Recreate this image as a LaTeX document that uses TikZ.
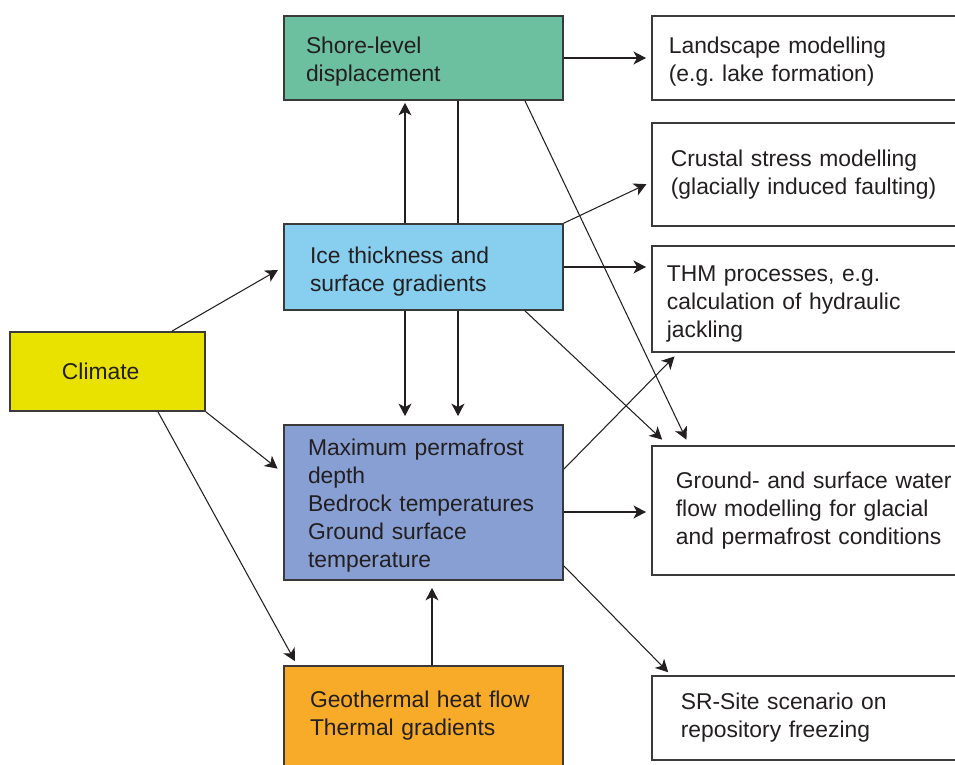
\documentclass[tikz,border=0pt]{standalone}
\usepackage{fontspec}
\setmainfont{Liberation Sans}
\usetikzlibrary{arrows.meta}

\definecolor{shoregreen}{HTML}{6CBF9F}
\definecolor{iceblue}{HTML}{87CEEF}
\definecolor{climyellow}{HTML}{E9E100}
\definecolor{permablue}{HTML}{879FD3}
\definecolor{geoorange}{HTML}{F7AB28}
\definecolor{boxline}{HTML}{3A3A3A}
\definecolor{txt}{HTML}{231F20}

\tikzset{
    box/.style={draw=boxline, line width=1pt, inner xsep=0pt, inner ysep=0pt,
        align=left, text=txt, font=\fontsize{13}{15.9}\selectfont},
    midbox/.style={box, minimum width=55.8mm},
    sidebox/.style={box, fill=white, anchor=west, text width=62mm},
    drop/.style={execute at begin node={\rule{0pt}{#1}}},
    plainline/.style={line width=0.6pt, draw=txt},
    link/.style={plainline, -{Stealth[length=2.5mm, width=2.6mm, inset=0.7mm]}, shorten >=1mm},
}

\begin{document}
\begin{tikzpicture}[x=0.2mm, y=-0.2mm]
    \useasboundingbox (0,0) rectangle (955,765);

    % Middle column
    \node[midbox, fill=shoregreen, text width=47mm, minimum height=16.8mm, drop=13.6pt] (shore) at (423.5,58)
        {Shore-level\\displacement};
    \node[midbox, fill=iceblue, text width=45.4mm, minimum height=17.2mm, drop=15pt] (ice) at (423.5,267)
        {Ice thickness and\\surface gradients};
    \node[midbox, fill=permablue, text width=46.2mm, minimum height=31mm, drop=13pt] (perma) at (423.5,502.5)
        {Maximum permafrost\\depth\\Bedrock temperatures\\Ground surface\\temperature};
    \node[midbox, fill=geoorange, text width=45.4mm, minimum height=20mm] (geo) at (423.5,716)
        {Geothermal heat flow\\Thermal gradients};

    % Climate
    \node[box, fill=climyellow, text width=18.2mm, minimum width=39mm, minimum height=15.8mm] (climate)
        at (107.5,371.5) {Climate};

    % Right column
    \node[sidebox, inner xsep=3.4mm, minimum height=16.8mm, drop=13pt] (land) at (651,58)
        {Landscape modelling\\(e.g.\ lake formation)};
    \node[sidebox, inner xsep=3.8mm, minimum height=20.6mm] (crust) at (651,174.5)
        {Crustal stress modelling\\(glacially induced faulting)};
    \node[sidebox, inner xsep=3mm, minimum height=21.2mm, drop=14.2pt] (thm) at (651,299)
        {THM processes, e.g.\\calculation of hydraulic\\jackling};
    \node[sidebox, inner xsep=4.8mm, minimum height=25.8mm] (gw) at (651,510.5)
        {Ground- and surface water\\flow modelling for glacial\\and permafrost conditions};
    \node[sidebox, inner xsep=5.8mm, minimum height=16.8mm] (sr) at (651,718)
        {SR-Site scenario on\\repository freezing};

    % Climate links
    \draw[link, shorten >=1.2mm] ([xshift=12.9mm]climate.north) -- (ice.west);
    \draw[link, shorten >=1.4mm] (climate.south east) -- ([yshift=5.9mm]perma.west);
    \draw[link, shorten >=0.9mm] ([xshift=10.1mm]climate.south) -- ([xshift=2.8mm]geo.north west);

    % Vertical links
    \draw[link, shorten >=0.4mm] ([xshift=-3.7mm]ice.north) -- ([xshift=-3.7mm]shore.south);
    \draw[plainline] ([xshift=6.9mm]shore.south) -- ([xshift=6.9mm]ice.north);
    \draw[link, shorten >=1.6mm] ([xshift=-3.7mm]ice.south) -- ([xshift=-3.7mm]perma.north);
    \draw[link, shorten >=1.6mm] ([xshift=6.9mm]ice.south) -- ([xshift=6.9mm]perma.north);
    \coordinate (gt) at ([xshift=1.7mm]geo.north);
    \draw[link, shorten >=1.4mm] (gt) -- (gt |- perma.south);

    % Links to the models
    \draw[link] (shore.east) -- (land.west);
    \draw[link, shorten >=1.2mm] ([xshift=20.3mm]shore.south) -- ([xshift=7.6mm]gw.north west);
    \draw[link] (ice.north east) -- ([yshift=-1.5mm]crust.west);
    \draw[link] (ice.east) -- (ice.east -| thm.west);
    \draw[link, shorten >=1.6mm] ([xshift=20.3mm]ice.south) -- ([xshift=3.4mm]gw.north west);
    \draw[link] ([yshift=-9mm]perma.north east) -- ([xshift=5.4mm]thm.south west);
    \coordinate (pe) at ([yshift=-1.9mm]perma.east);
    \draw[link] (pe) -- (pe -| gw.west);
    \draw[link, shorten >=0.8mm] ([yshift=3mm]perma.south east) -- ([xshift=4mm]sr.north west);
\end{tikzpicture}
\end{document}
